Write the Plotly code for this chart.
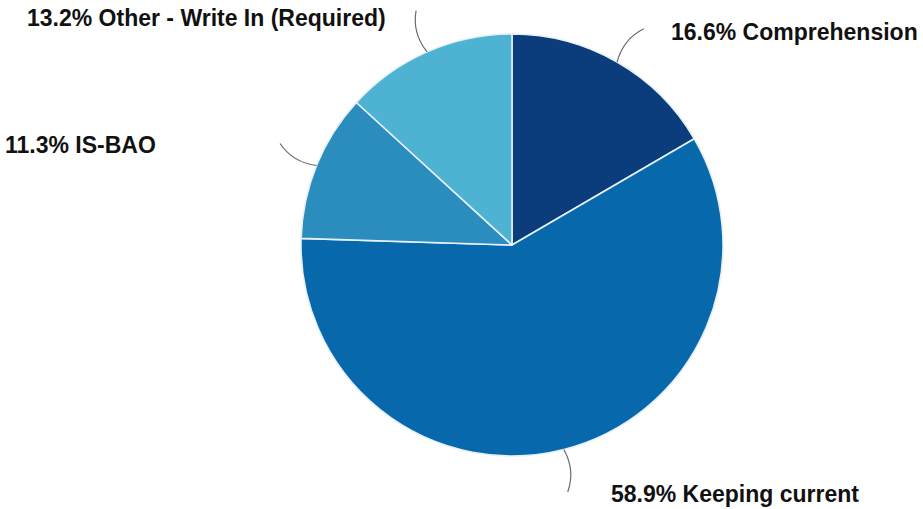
import math
import plotly.graph_objects as go

# ---- data ----
categories = ["Comprehension", "Keeping current", "IS-BAO", "Other - Write In (Required)"]
values = [16.6, 58.9, 11.3, 13.2]
colors = ["#0b3d7c", "#0868ac", "#2b8cbe", "#4eb3d3"]

# ---- layout geometry (pixels) ----
W, H = 923, 509
CX, CY, R = 512, 245, 211
LINE_R0, LINE_R1 = 1.0, 1.2
# label offsets (xshift, yshift) in px relative to leader-line end
label_shift = [(25, -3), (41, -2), (-122, -2), (-28, -7)]

fig = go.Figure(go.Pie(
    labels=categories,
    values=values,
    sort=False,
    direction="clockwise",
    rotation=0,
    textinfo="none",
    hoverinfo="label+percent",
    marker=dict(colors=colors, line=dict(color="#e6f0f8", width=1.6)),
    domain=dict(x=[(CX - R) / W, (CX + R) / W], y=[1 - (CY + R) / H, 1 - (CY - R) / H]),
    showlegend=False,
))

total = sum(values)
cum = 0.0
shapes, annotations = [], []
for cat, v, (xs, ys) in zip(categories, values, label_shift):
    theta = math.radians(360 * (cum + v / 2) / total)
    cum += v

    def pt(r, th):
        x = CX + r * R * math.sin(th)
        y = CY - r * R * math.cos(th)
        return x / W, 1 - y / H

    x0, y0 = pt(LINE_R0, theta)
    x1, y1 = pt(LINE_R1, theta + math.radians(1.5))
    xc, yc = pt((LINE_R0 + LINE_R1) / 2 + 0.01, theta - math.radians(1.5))
    shapes.append(dict(type="path", xref="paper", yref="paper",
                       path=f"M {x0},{y0} Q {xc},{yc} {x1},{y1}",
                       line=dict(color="#6b6b6b", width=1.2)))
    pct = 100 * v / total
    annotations.append(dict(
        xref="paper", yref="paper", x=x1, y=y1,
        xanchor="left" if math.sin(theta) > 0 else "right", yanchor="middle",
        xshift=xs, yshift=ys, showarrow=False,
        text=f"{pct:.1f}% {cat}",
        font=dict(family="Liberation Sans, Arial, sans-serif", size=23, color="#111111", weight="bold"),
    ))

fig.update_layout(
    width=W, height=H,
    margin=dict(l=0, r=0, t=0, b=0),
    paper_bgcolor="white", plot_bgcolor="white",
    shapes=shapes, annotations=annotations,
)

fig.write_html("out.html", config={"displayModeBar": False},
               post_script="document.body.style.margin='0';document.body.style.overflow='hidden';")
